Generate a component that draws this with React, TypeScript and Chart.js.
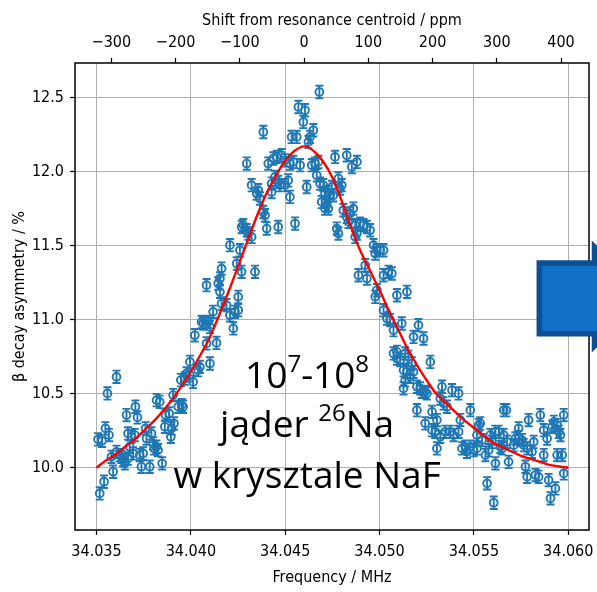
import React, { useEffect, useRef } from 'react';
import { Chart, registerables } from 'chart.js';

Chart.register(...registerables);

// ---------- data ----------
const FREQ_MHZ: number[] = [
  34.03517, 34.0354, 34.03508, 34.03529, 34.03547, 34.03566, 34.03558, 34.03606, 34.03588, 34.03579,
  34.03606, 34.03623, 34.03641, 34.0365, 34.03632, 34.03659, 34.03706, 34.03717, 34.03667, 34.03685,
  34.03703, 34.03676, 34.03694, 34.03667, 34.03729, 34.03738, 34.03782, 34.03747, 34.0376, 34.03791,
  34.03765, 34.038, 34.03805, 34.03818, 34.03826, 34.03848, 34.03818, 34.03835, 34.03862, 34.03866,
  34.03885, 34.03898, 34.03894, 34.03911, 34.03906, 34.03933, 34.03951, 34.03959, 34.03947, 34.03968,
  34.03995, 34.03977, 34.03995, 34.04012, 34.04039, 34.04048, 34.04101, 34.04021, 34.04057, 34.04065,
  34.04092, 34.04101, 34.04083, 34.04136, 34.04118, 34.04163, 34.04189, 34.04207, 34.04225, 34.04234,
  34.04251, 34.04278, 34.04207, 34.0426, 34.04163, 34.04154, 34.04145, 34.04083, 34.04243, 34.04269,
  34.04154, 34.04251, 34.04296, 34.0441, 34.04437, 34.04455, 34.04481, 34.04499, 34.04525, 34.04543,
  34.04579, 34.04641, 34.04658, 34.04676, 34.04764, 34.04826, 34.04853, 34.0488, 34.04322, 34.04349,
  34.04366, 34.04357, 34.04428, 34.04446, 34.04463, 34.04472, 34.04499, 34.04516, 34.04428, 34.04525,
  34.04614, 34.04667, 34.04685, 34.04702, 34.04711, 34.04729, 34.04747, 34.04738, 34.04755, 34.04693,
  34.0472, 34.04711, 34.04729, 34.04782, 34.048, 34.04791, 34.04808, 34.04826, 34.04861, 34.04844,
  34.04773, 34.04782, 34.04835, 34.04871, 34.04897, 34.04915, 34.04933, 34.0495, 34.0488, 34.04871,
  34.04968, 34.04986, 34.05003, 34.05021, 34.04977, 34.04888, 34.04924, 34.04933, 34.05021, 34.05047,
  34.05065, 34.04977, 34.04986, 34.05021, 34.05039, 34.05056, 34.05092, 34.05145, 34.05074, 34.05118,
  34.05092, 34.05109, 34.05136, 34.0434, 34.04269, 34.04296, 34.04322, 34.04304, 34.04384, 34.04393,
  34.04402, 34.04463, 34.04552, 34.04681, 34.0457, 34.04605, 34.04596, 34.04649, 34.04632, 34.04623,
  34.04534, 34.04561, 34.04384, 34.0518, 34.05206, 34.05233, 34.05153, 34.05171, 34.0518, 34.05162,
  34.05136, 34.05269, 34.05127, 34.05215, 34.05224, 34.05242, 34.05331, 34.05384, 34.05419, 34.05251,
  34.05198, 34.05278, 34.05304, 34.05242, 34.05339, 34.05357, 34.05322, 34.05428, 34.05481, 34.05278,
  34.05295, 34.05322, 34.05348, 34.05375, 34.05392, 34.05419, 34.05304, 34.05437, 34.05454, 34.05481,
  34.05463, 34.05498, 34.05516, 34.05525, 34.05534, 34.05516, 34.05543, 34.05561, 34.05578, 34.05587,
  34.05614, 34.05631, 34.05658, 34.05596, 34.0564, 34.05676, 34.05614, 34.05684, 34.05649, 34.05711,
  34.0572, 34.05737, 34.05755, 34.05764, 34.05782, 34.05808, 34.05737, 34.05817, 34.0579, 34.05852,
  34.05976, 34.0587, 34.05888, 34.05915, 34.05924, 34.05941, 34.0595, 34.05959, 34.0587, 34.05941,
  34.05968, 34.05773, 34.05782, 34.05826, 34.05843, 34.05896, 34.05932, 34.05906, 34.05976, 34.0557,
  34.05605, 34.05658, 34.05672, 34.05074, 34.05092, 34.05145, 34.05198, 34.05127,
];

const ASYMMETRY: number[] = [
  9.827, 9.906, 10.192, 10.182, 10.266, 10.221, 10.502, 10.614, 9.973, 10.074,
  10.108, 10.086, 10.052, 10.03, 10.074, 10.356, 10.412, 10.34, 10.232, 10.209,
  10.221, 10.142, 10.097, 10.063, 10.086, 10.007, 10.007, 10.097, 10.266, 10.232,
  10.198, 10.165, 10.131, 10.142, 10.119, 10.03, 10.457, 10.445, 10.277, 10.356,
  10.367, 10.266, 10.209, 10.3, 10.491, 10.412, 10.423, 10.412, 10.592, 10.603,
  10.625, 10.637, 10.715, 10.58, 10.659, 10.681, 10.704, 10.895, 10.985, 10.974,
  10.985, 10.951, 10.84, 10.843, 11.053, 11.109, 11.098, 11.03, 10.941, 11.053,
  11.064, 11.638, 11.503, 11.469, 11.345, 11.278, 11.244, 11.233, 11.379, 11.323,
  11.188, 11.154, 12.054, 12.054, 12.088, 12.099, 12.11, 12.076, 12.054, 12.065,
  12.043, 12.043, 12.054, 12.065, 12.099, 12.11, 12.031, 12.065, 11.908, 11.852,
  11.818, 11.874, 11.919, 11.964, 11.93, 11.908, 11.908, 11.941, 11.862, 11.829,
  11.896, 11.975, 11.919, 11.908, 11.852, 11.862, 11.896, 11.84, 11.84, 11.795,
  11.773, 11.75, 11.75, 11.953, 11.908, 11.885, 11.739, 11.694, 11.75, 11.717,
  11.615, 11.582, 11.66, 11.638, 11.649, 11.638, 11.626, 11.604, 11.582, 11.559,
  11.503, 11.469, 11.469, 11.469, 11.447, 11.3, 11.368, 11.278, 11.3, 11.323,
  11.312, 11.154, 11.199, 11.064, 11.008, 10.997, 11.165, 11.188, 10.929, 10.974,
  10.783, 10.727, 10.772, 11.323, 11.626, 11.604, 11.559, 11.582, 11.727, 11.705,
  11.615, 11.626, 11.649, 12.537, 12.436, 12.414, 12.335, 12.279, 12.234, 12.2,
  12.234, 12.234, 12.267, 10.884, 10.963, 10.873, 10.749, 10.704, 10.648, 10.614,
  10.592, 10.715, 10.536, 10.536, 10.513, 10.513, 10.547, 10.524, 10.502, 10.502,
  10.389, 10.378, 10.322, 10.3, 10.435, 10.412, 10.468, 10.322, 10.389, 10.254,
  10.243, 10.209, 10.243, 10.243, 10.221, 10.243, 10.131, 10.131, 10.142, 10.142,
  10.108, 10.119, 10.131, 10.288, 10.3, 10.221, 10.187, 10.086, 10.119, 10.221,
  10.243, 10.243, 10.221, 10.175, 10.142, 10.175, 10.03, 10.04, 10.131, 10.153,
  10.198, 10.209, 10.187, 10.153, 10.131, 10.108, 10.266, 10.175, 10.322, 10.356,
  10.356, 10.254, 10.198, 10.277, 10.31, 10.288, 10.243, 10.221, 10.086, 10.086,
  10.086, 10.007, 9.939, 9.951, 9.939, 9.917, 9.861, 9.794, 9.962, 9.895,
  9.764, 10.389, 10.389, 10.772, 10.738, 10.648, 10.547, 10.659,
];

const ERROR_BAR = 0.042; // half-length of each error bar, %

const FIT_FREQ_MHZ: number[] = [
  34.035, 34.0355, 34.036, 34.0365, 34.037, 34.0375, 34.038, 34.0385, 34.039, 34.0395,
  34.04, 34.0405, 34.041, 34.0415, 34.042, 34.0425, 34.043, 34.0435, 34.044, 34.0445,
  34.045, 34.0455, 34.046, 34.0465, 34.047, 34.0475, 34.048, 34.0485, 34.049, 34.0495,
  34.05, 34.0505, 34.051, 34.0515, 34.052, 34.0525, 34.053, 34.0535, 34.054, 34.0545,
  34.055, 34.0555, 34.056, 34.0565, 34.057, 34.0575, 34.058, 34.0585, 34.059, 34.0595,
  34.06,
];
const FIT_ASYMMETRY: number[] = [
  10.0, 10.05, 10.09, 10.14, 10.19, 10.25, 10.31, 10.38, 10.46, 10.55,
  10.65, 10.76, 10.88, 11.03, 11.19, 11.36, 11.53, 11.7, 11.85, 11.97,
  12.075, 12.14, 12.17, 12.14, 12.07, 11.96, 11.8, 11.62, 11.46, 11.33,
  11.2, 11.06, 10.93, 10.8, 10.69, 10.59, 10.5, 10.44, 10.38, 10.32,
  10.27, 10.22, 10.17, 10.14, 10.11, 10.08, 10.06, 10.04, 10.02, 10.01,
  10.0,
];

const FREQ_TICKS = [34.035, 34.04, 34.045, 34.05, 34.055, 34.06];
const PPM_TICKS = [-300, -200, -100, 0, 100, 200, 300, 400];
const Y_TICKS = [10.0, 10.5, 11.0, 11.5, 12.0, 12.5];

const CENTROID_MHZ = 34.046;
const X_MIN = 34.03386;
const X_MAX = 34.0611;
const Y_MIN = 9.58;
const Y_MAX = 12.733;

const ANNOTATION_LINES: [string, boolean][][] = [
  [['10', false], ['7', true], ['-10', false], ['8', true]],
  [['jąder ', false], ['26', true], ['Na', false]],
  [['w krysztale NaF', false]],
];
const ANNOTATION_CENTER_MHZ = 34.04616;
const ANNOTATION_BASELINES = [10.538, 10.207, 9.863];

// ---------- styles ----------
const BLUE = '#1f77b4';
const AXIS_FONT = "'DejaVu Sans Condensed', 'DejaVu Sans', sans-serif";
const TEXT_FONT = "'Open Sans', sans-serif";
const TEXT_SIZE = 37;
const CAP = 4;

const toPpm = (f: number) => ((f - CENTROID_MHZ) / CENTROID_MHZ) * 1e6;

const errorBarPlugin = {
  id: 'errorBars',
  beforeDatasetsDraw(chart: any) {
    const { ctx } = chart;
    const x = chart.scales.x;
    const y = chart.scales.y;
    ctx.save();
    ctx.strokeStyle = BLUE;
    ctx.lineWidth = 1.9;
    ctx.beginPath();
    for (let i = 0; i < FREQ_MHZ.length; i++) {
      const px = x.getPixelForValue(FREQ_MHZ[i]);
      const top = y.getPixelForValue(ASYMMETRY[i] + ERROR_BAR);
      const bot = y.getPixelForValue(ASYMMETRY[i] - ERROR_BAR);
      ctx.moveTo(px, top);
      ctx.lineTo(px, bot);
      ctx.moveTo(px - CAP, top);
      ctx.lineTo(px + CAP, top);
      ctx.moveTo(px - CAP, bot);
      ctx.lineTo(px + CAP, bot);
    }
    ctx.stroke();
    ctx.restore();
  },
};

const decorPlugin = {
  id: 'decor',
  afterDatasetsDraw(chart: any) {
    const { ctx, chartArea: a } = chart;
    ctx.save();
    ctx.strokeStyle = 'black';
    ctx.lineWidth = 1.5;
    ctx.strokeRect(a.left, a.top, a.right - a.left, a.bottom - a.top);
    ctx.restore();
  },
  afterDraw(chart: any) {
    const { ctx } = chart;
    const x = chart.scales.x;
    const y = chart.scales.y;
    // annotation text
    ctx.save();
    ctx.fillStyle = 'black';
    ctx.textBaseline = 'alphabetic';
    ctx.textAlign = 'left';
    const supSize = TEXT_SIZE * 0.65;
    const cx = x.getPixelForValue(ANNOTATION_CENTER_MHZ);
    ANNOTATION_LINES.forEach((parts, li) => {
      const base = y.getPixelForValue(ANNOTATION_BASELINES[li]);
      const widths = parts.map(([t, s]) => {
        ctx.font = `${s ? supSize : TEXT_SIZE}px ${TEXT_FONT}`;
        return ctx.measureText(t).width;
      });
      const total = widths.reduce((p, w) => p + w, 0);
      let px = cx - total / 2;
      parts.forEach(([t, s], i) => {
        ctx.font = `${s ? supSize : TEXT_SIZE}px ${TEXT_FONT}`;
        ctx.fillText(t, px, s ? base - TEXT_SIZE * 0.44 : base);
        px += widths[i];
      });
    });
    ctx.restore();

    // block arrow at the right edge
    ctx.save();
    ctx.beginPath();
    ctx.moveTo(539.3, 263);
    ctx.lineTo(594.5, 263);
    ctx.lineTo(594.5, 247);
    ctx.lineTo(645, 296.5);
    ctx.lineTo(594.5, 346);
    ctx.lineTo(594.5, 333.7);
    ctx.lineTo(539.3, 333.7);
    ctx.closePath();
    ctx.fillStyle = '#1170c6';
    ctx.fill();
    ctx.lineJoin = 'miter';
    ctx.lineWidth = 5.5;
    ctx.strokeStyle = '#0c4f92';
    ctx.stroke();
    ctx.restore();
  },
};

export default function App() {
  const ref = useRef<HTMLCanvasElement>(null);

  useEffect(() => {
    const axisFont = { family: AXIS_FONT, size: 16 };
    const chart = new Chart(ref.current as HTMLCanvasElement, {
      type: 'scatter',
      data: {
        datasets: [
          {
            type: 'line',
            data: FIT_FREQ_MHZ.map((f, i) => ({ x: f, y: FIT_ASYMMETRY[i] })),
            borderColor: 'red',
            borderWidth: 2.4,
            pointRadius: 0,
            fill: false,
            cubicInterpolationMode: 'monotone',
            order: 0,
          } as any,
          {
            type: 'scatter',
            data: FREQ_MHZ.map((f, i) => ({ x: f, y: ASYMMETRY[i] })),
            borderColor: BLUE,
            backgroundColor: 'rgba(0,0,0,0)',
            borderWidth: 1.9,
            pointRadius: 3.9,
            pointStyle: 'circle',
            order: 1,
          } as any,
        ],
      },
      options: {
        responsive: false,
        devicePixelRatio: 1,
        animation: false,
        events: [],
        layout: { padding: { left: 0, right: 8, top: 0, bottom: 0 } },
        plugins: { legend: { display: false }, tooltip: { enabled: false } },
        scales: {
          x: {
            type: 'linear',
            position: 'bottom',
            min: X_MIN,
            max: X_MAX,
            afterBuildTicks: (s: any) => {
              s.ticks = FREQ_TICKS.map((v) => ({ value: v }));
            },
            afterFit: (s: any) => {
              s.height = 62;
              s.paddingLeft = 0;
              s.paddingRight = 0;
            },
            ticks: {
              callback: (v: any) => Number(v).toFixed(3),
              font: axisFont,
              color: 'black',
              padding: 7,
              maxRotation: 0,
              autoSkip: false,
            },
            grid: { color: '#b0b0b0', lineWidth: 1, tickColor: 'black', tickLength: 5, tickWidth: 1.2 },
            border: { display: false },
            title: {
              display: true,
              text: 'Frequency / MHz',
              font: axisFont,
              color: 'black',
              padding: { top: 0, bottom: 5 },
            },
          },
          xTop: {
            type: 'linear',
            position: 'top',
            min: toPpm(X_MIN),
            max: toPpm(X_MAX),
            afterBuildTicks: (s: any) => {
              s.ticks = PPM_TICKS.map((v) => ({ value: v }));
            },
            afterFit: (s: any) => {
              s.height = 63;
              s.paddingLeft = 0;
              s.paddingRight = 0;
            },
            ticks: {
              callback: (v: any) => (Number(v) < 0 ? '\u2212' + Math.abs(Number(v)) : String(v)),
              font: axisFont,
              color: 'black',
              padding: 6,
              maxRotation: 0,
              autoSkip: false,
            },
            grid: { drawOnChartArea: false, tickColor: 'black', tickLength: 5, tickWidth: 1.2 },
            border: { display: false },
            title: {
              display: true,
              text: 'Shift from resonance centroid / ppm',
              font: axisFont,
              color: 'black',
              padding: { top: 11, bottom: 0 },
            },
          },
          y: {
            type: 'linear',
            position: 'left',
            min: Y_MIN,
            max: Y_MAX,
            afterBuildTicks: (s: any) => {
              s.ticks = Y_TICKS.map((v) => ({ value: v }));
            },
            afterFit: (s: any) => {
              s.width = 75;
              s.paddingTop = 0;
              s.paddingBottom = 0;
            },
            ticks: {
              callback: (v: any) => Number(v).toFixed(1),
              font: axisFont,
              color: 'black',
              padding: 6,
              autoSkip: false,
            },
            grid: { color: '#b0b0b0', lineWidth: 1, tickColor: 'black', tickLength: 5, tickWidth: 1.2 },
            border: { display: false },
            title: {
              display: true,
              text: 'β decay asymmetry / %',
              font: axisFont,
              color: 'black',
              padding: { top: 10, bottom: 0 },
            },
          },
        },
      } as any,
      plugins: [errorBarPlugin, decorPlugin],
    });
    return () => chart.destroy();
  }, []);

  return (
    <div style={{ position: 'absolute', left: 0, top: 0, width: 597, height: 592, background: 'white' }}>
      <canvas ref={ref} width={597} height={592} style={{ display: 'block', width: 597, height: 592 }} />
    </div>
  );
}
